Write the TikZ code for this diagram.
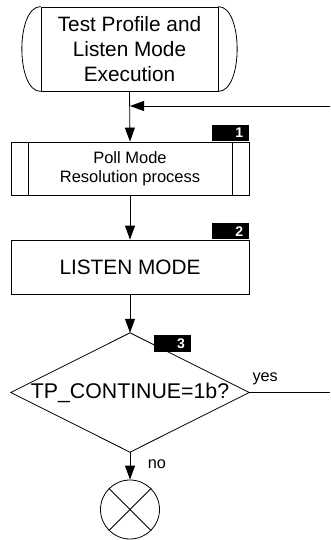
\documentclass[tikz,border=0pt]{standalone}
\usepackage{fontspec}
\setmainfont{Liberation Sans}
\usetikzlibrary{arrows.meta}
\begin{document}
\begin{tikzpicture}[x=1pt,y=-1pt,
  line/.style={draw=black, line width=0.8pt},
  arr/.style={line, -{Triangle[length=14pt,width=10pt]}},
  box/.style={line, rectangle, minimum width=238pt, inner sep=0pt, align=center},
  badge/.style={fill=black, rectangle, minimum width=37pt, minimum height=16.5pt, inner xsep=6pt, inner ysep=0pt, text width=25pt, align=right, text=white, font=\fontsize{14}{14}\selectfont\bfseries},
  big/.style={font=\fontsize{20.8}{24.6}\selectfont},
  small/.style={font=\fontsize{16.5}{18.5}\selectfont},
  lbl/.style={font=\fontsize{16.3}{18}\selectfont, inner sep=0pt, anchor=base west}]
\useasboundingbox (0,0) rectangle (330,540);

% terminal
\node[box, big, minimum width=177pt, minimum height=84pt] (term) at (129.5,49) {Test Profile and\\Listen Mode\\Execution};
\draw[line] (term.north west) .. controls +(-25,0) and +(-25,0) .. (term.south west);
\draw[line] (term.north east) .. controls +(25,0) and +(25,0) .. (term.south east);

% predefined process
\node[box, small, minimum height=53pt] (poll) at (130,168.5) {Poll Mode\\Resolution process};
\draw[line] ([xshift=18pt]poll.north west) -- ([xshift=18pt]poll.south west);
\draw[line] ([xshift=-17pt]poll.north east) -- ([xshift=-17pt]poll.south east);
\node[badge, anchor=south east] (b1) at (poll.north east) {1};

% listen mode
\node[box, big, minimum height=54pt] (listen) at (130,267) {LISTEN MODE};
\node[badge, anchor=south east] (b2) at (listen.north east) {2};

% decision
\node[inner sep=0pt, minimum width=238pt, minimum height=119pt, font=\fontsize{21.3}{24}\selectfont] (dec) at (130,392.5) {TP\_CONTINUE=1b?};
\draw[line] (dec.north) -- (dec.east) -- (dec.south) -- (dec.west) -- cycle;
\node[badge] (b3) at (172.5,343.5) {3};

% end
\node[line, circle, minimum size=59pt, inner sep=0pt] (stop) at (130,509.5) {};
\draw[line] (stop.north west) -- (stop.south east);
\draw[line] (stop.north east) -- (stop.south west);

% connectors
\coordinate (retin) at (330,106);
\coordinate (yesout) at (330,392.5);
\draw[arr] (term.south) -- (poll.north);
\draw[arr] (retin) -- (retin -| poll.north);
\draw[arr] (poll.south) -- (listen.north);
\draw[arr] (listen.south) -- (dec.north);
\draw[arr] (dec.south) -- (stop.north);
\draw[line] (dec.east) -- (yesout);
\node[lbl] (yes) at (252.3,381.7) {yes};
\node[lbl] (no) at (147.7,468.3) {no};
\end{tikzpicture}
\end{document}
